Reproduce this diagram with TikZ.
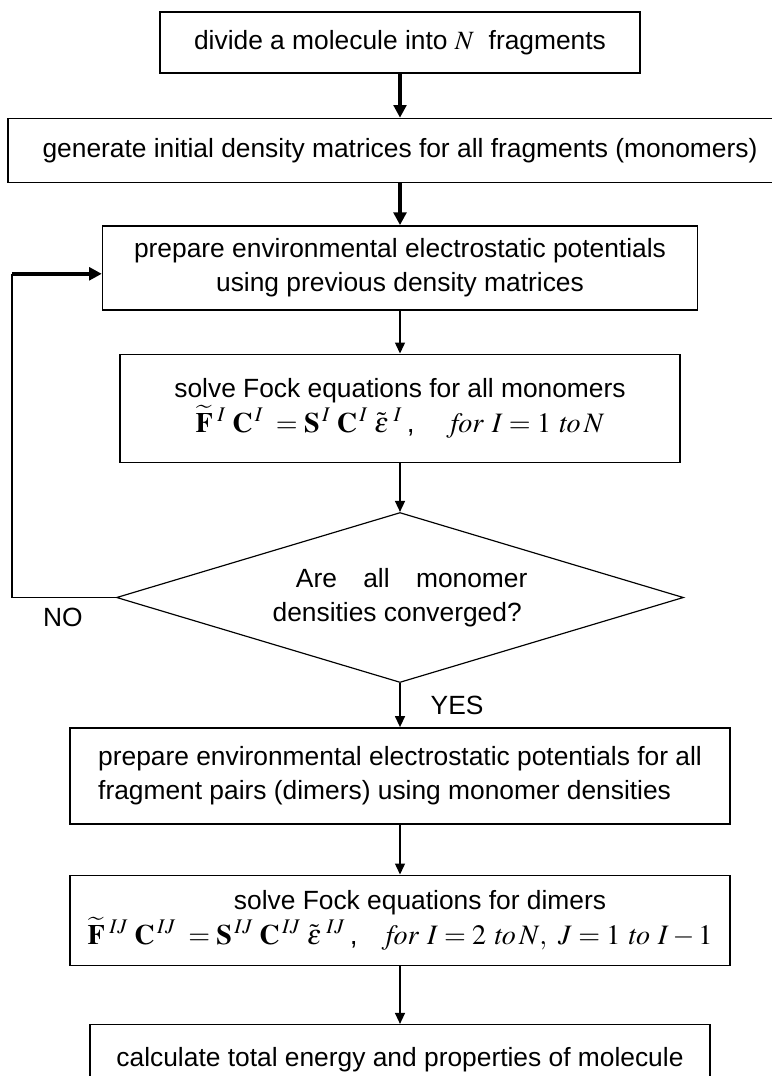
\documentclass[tikz,border=0pt]{standalone}
\usepackage{amsmath}
\usepackage{mathptmx}
\usepackage[no-math]{fontspec}
\newfontfamily\flowfont{Liberation Sans}
\newcommand{\eqsize}{\fontsize{24}{29.5}\selectfont}
\usepackage{tikz}
\usetikzlibrary{shapes.geometric, arrows.meta, positioning, calc}

\begin{document}
\begin{tikzpicture}[
    node distance=1.3cm,
    every node/.style={font=\flowfont\fontsize{22.5}{29.5}\selectfont},
    block/.style={rectangle, draw, align=center, line width=1.2pt, inner sep=0pt},
    decision/.style={diamond, draw, align=left, line width=1pt, inner sep=0pt, aspect=3.3},
    arrow/.style={-{Triangle[length=0.33cm, width=0.3cm]}, line width=1.2pt},
    thickarrow/.style={-{Triangle[length=0.38cm, width=0.38cm]}, line width=3.2pt},
    tag/.style={inner sep=0pt}
]
\useasboundingbox (0,0) rectangle (23.16,-32.28);

% Main column
\node[block, minimum width=14.4cm, minimum height=1.83cm] (divide) at (12,-1.275) {divide a molecule into $N$\ \ fragments};
\node[block, below=1.32cm of divide, minimum width=23.52cm, minimum height=1.92cm] (initial) {generate initial density matrices for all fragments (monomers)};
\node[block, below=1.26cm of initial, minimum width=17.85cm, minimum height=2.52cm] (envmono) {prepare environmental electrostatic potentials\\using previous density matrices};
\node[block, below=1.29cm of envmono, minimum width=16.8cm, minimum height=3.24cm] (fockmono) {solve Fock equations for all monomers\\
  {\eqsize$\widetilde{\mathbf F}^{\,\,I}\;\mathbf C^{\,I}\;=\mathbf S^{\,I}\;\mathbf C^{\,I}\;\tilde{\varepsilon}^{\,\,I}$\,,\quad\ $\mathit{for}\ I=1\ \mathit{to}\,N$}};
\node[decision, below=1.47cm of fockmono, minimum width=17.01cm, minimum height=5.1cm] (conv) {\hspace*{0.7cm}Are\quad all\quad monomer\\densities converged?};
\node[block, below=1.32cm of conv, minimum width=19.8cm, minimum height=2.88cm, align=left] (envdimer) {prepare environmental electrostatic potentials for all\\fragment pairs (dimers) using monomer densities};
\node[block, below=1.5cm of envdimer, minimum width=19.8cm, minimum height=2.7cm] (fockdimer) {\hspace*{1.2cm}solve Fock equations for dimers\\
  {\eqsize$\widetilde{\mathbf F}^{\,\,IJ}\;\mathbf C^{\,IJ}\;=\mathbf S^{\,IJ}\;\mathbf C^{\,IJ}\;\tilde{\varepsilon}^{\,\,IJ}$\,,\quad $\mathit{for}\ I=2\ \mathit{to}\,N,\ J=1\ \mathit{to}\ I-1$}};
\node[block, below=1.74cm of fockdimer, minimum width=18.6cm, minimum height=2.1cm] (total) {calculate total energy and properties of molecule};

% Arrows
\draw[thickarrow] (divide) -- (initial);
\draw[thickarrow] (initial) -- (envmono);
\draw[arrow] (envmono) -- (fockmono);
\draw[arrow] (fockmono) -- (conv);
\draw[arrow] (conv) -- (envdimer) node[tag, midway, right=0.9cm] {YES};
\draw[arrow] (envdimer) -- (fockdimer);
\draw[arrow] (fockdimer) -- (total);

% Loop back
\coordinate (turn) at ($(envmono.west)+(-2.69cm,-0.18cm)$);
\draw[line width=1.2pt] (conv.west) -| (turn) node[tag, pos=0.255, below=0.3cm] {NO};
\draw[thickarrow] (turn) -- (turn -| envmono.west);

\end{tikzpicture}
\end{document}
